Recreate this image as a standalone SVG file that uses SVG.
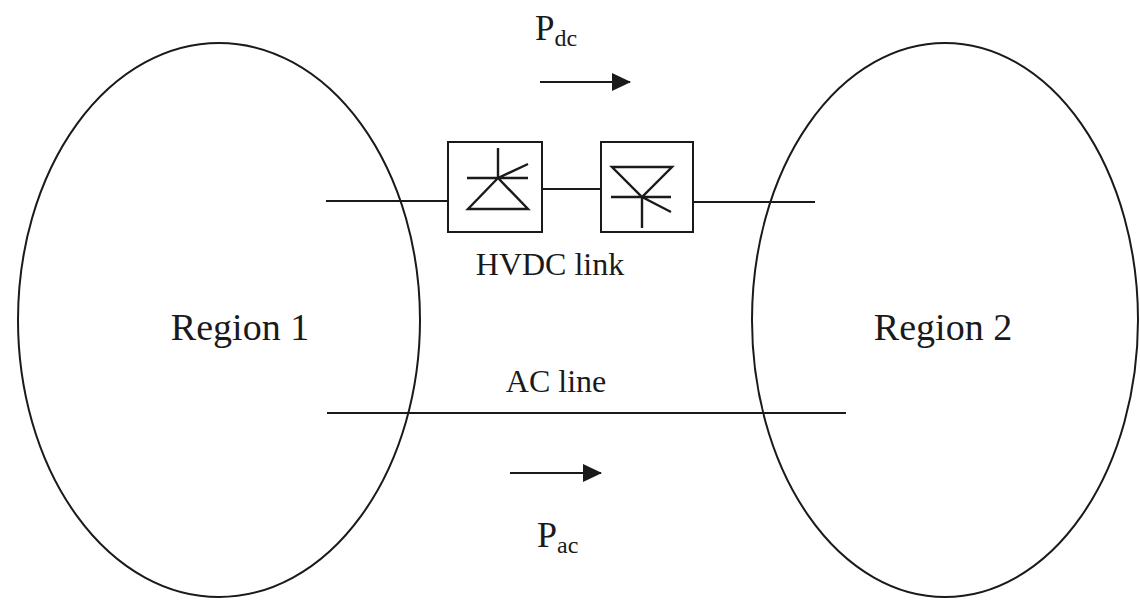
<svg xmlns="http://www.w3.org/2000/svg" width="1140" height="600" viewBox="0 0 1140 600">
<style>
.ln{stroke:#1a1a1a;stroke-width:2.2;fill:none}
.box{stroke:#1a1a1a;stroke-width:2;fill:#fff}
.sym{stroke:#1a1a1a;stroke-width:2.4;fill:none;stroke-linejoin:miter}
.reg{stroke:#1a1a1a;stroke-width:2;fill:none}
.t{font-family:"Liberation Serif","Times New Roman",serif;fill:#1a1a1a}
</style>
<defs>
<marker id="ah" markerUnits="userSpaceOnUse" markerWidth="19" markerHeight="18" refX="18" refY="9" orient="auto">
<path d="M0,0 L19,9 L0,18 z" fill="#1a1a1a"/>
</marker>
</defs>
<rect width="1140" height="600" fill="#fff"/>
<g id="region1">
<ellipse class="reg" cx="219" cy="320" rx="201" ry="277"/>
<text class="t" x="240" y="340" font-size="38" text-anchor="middle">Region 1</text>
</g>
<g id="region2">
<ellipse class="reg" cx="945" cy="320" rx="193" ry="277"/>
<text class="t" x="943" y="340" font-size="38" text-anchor="middle">Region 2</text>
</g>
<g id="connectors">
<line class="ln" x1="326" y1="201" x2="448" y2="201"/>
<line class="ln" x1="542" y1="189" x2="601" y2="189"/>
<line class="ln" x1="693" y1="202" x2="815" y2="202"/>
<line class="ln" x1="327" y1="413" x2="846" y2="413"/>
<line class="ln" x1="540" y1="82" x2="630" y2="82" marker-end="url(#ah)"/>
<line class="ln" x1="510" y1="473" x2="601" y2="473" marker-end="url(#ah)"/>
</g>
<g id="rectifier">
<rect class="box" x="448" y="142" width="94" height="90"/>
<path class="sym" d="M498,148 V178 M467,178 H528 M498,178 L468,209 H528 Z M498,178 L528,164"/>
</g>
<g id="inverter">
<rect class="box" x="601" y="142" width="92" height="90"/>
<path class="sym" d="M612,167 H672 L642,197 Z M611,197 H671 M642,197 V228 M642,197 L671,212"/>
</g>
<g id="labels">
<text class="t" x="550" y="275" font-size="32" text-anchor="middle">HVDC link</text>
<text class="t" x="556" y="392" font-size="32" text-anchor="middle">AC line</text>
<text class="t" x="535" y="40" font-size="35">P<tspan font-size="24" dy="6">dc</tspan></text>
<text class="t" x="537" y="547" font-size="36">P<tspan font-size="24" dy="6">ac</tspan></text>
</g>
</svg>
